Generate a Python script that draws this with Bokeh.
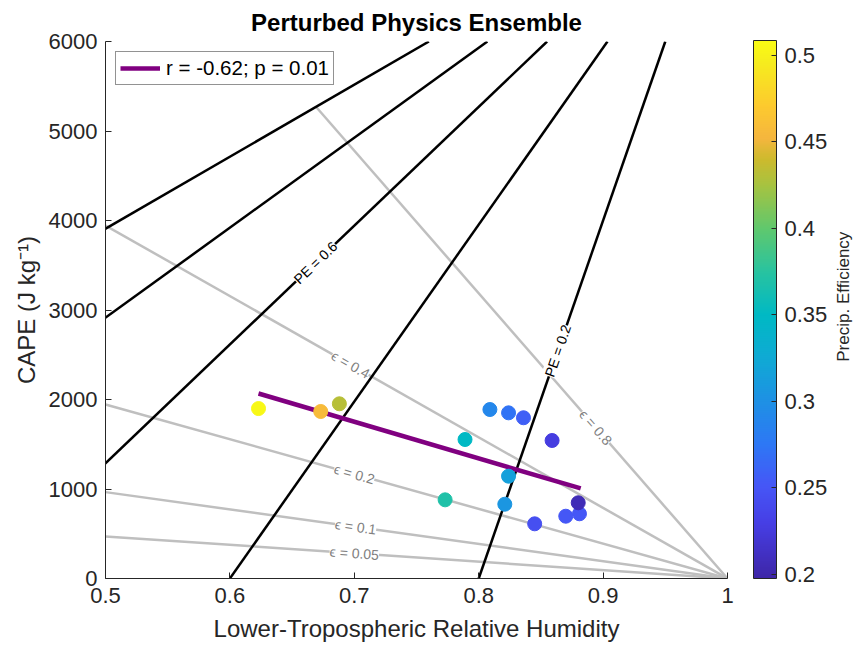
import numpy as np
from bokeh.plotting import figure
from bokeh.layouts import row
from bokeh.models import (ColumnDataSource, LinearColorMapper, ColorBar, FixedTicker,
                          CustomJSTickFormatter, Label, Range1d)
from bokeh.core.properties import value
from bokeh.transform import transform
from bokeh.embed import file_html
from bokeh.resources import INLINE

# ---------------- data ----------------
rh = [0.623, 0.673, 0.688, 0.789, 0.773, 0.809, 0.824, 0.836, 0.859,
      0.824, 0.821, 0.845, 0.870, 0.881, 0.880]
cape = [1899, 1866, 1952, 1553, 879, 1888, 1851, 1796, 1542,
        1143, 830, 611, 696, 723, 846]
pe = [0.505, 0.457, 0.432, 0.350, 0.370, 0.290, 0.272, 0.258, 0.228,
      0.315, 0.305, 0.245, 0.252, 0.252, 0.205]

trend_x = [0.623, 0.882]
trend_y = [2067, 1006]
trend_label = "r = -0.62; p = 0.01"

# epsilon reference lines: start point, all end at (1, 0)
eps_names = ["0.05", "0.1", "0.2", "0.4", "0.8"]
eps_x0 = [0.5, 0.5, 0.5, 0.5, 0.669]
eps_y0 = [470, 965, 1945, 3944, 5274]
eps_label_x = [0.700, 0.701, 0.700, 0.697, 0.894]

# PE reference lines: x at CAPE=0 and x at CAPE=6000
pe_line_x0 = [0.800, 0.600, 0.403, 0.210, 0.014]
pe_line_xtop = [0.950, 0.9035, 0.855, 0.807, 0.760]
pe_labels = {0: "PE = 0.2", 2: "PE = 0.6"}
pe_label_x = {0: 0.8636, 2: 0.6688}

x_ticks = [0.5, 0.6, 0.7, 0.8, 0.9, 1.0]
y_ticks = [0, 1000, 2000, 3000, 4000, 5000, 6000]
cb_ticks = [0.2, 0.25, 0.3, 0.35, 0.4, 0.45, 0.5]
cb_low, cb_high = 0.1977, 0.5086
cb_title = "Precip. Efficiency"

# ---------------- parula-like palette ----------------
anchors = [
    (0.00, (62, 38, 168)), (0.10, (70, 62, 228)), (0.17, (70, 86, 246)),
    (0.25, (45, 120, 245)), (0.33, (30, 145, 228)), (0.41, (15, 170, 212)),
    (0.49, (0, 185, 196)), (0.57, (40, 195, 160)), (0.65, (95, 200, 110)),
    (0.73, (165, 195, 65)), (0.78, (205, 186, 45)), (0.82, (245, 182, 62)),
    (0.88, (253, 202, 46)), (0.96, (246, 236, 30)), (1.00, (249, 251, 20)),
]
at = np.array([a[0] for a in anchors])
ac = np.array([a[1] for a in anchors], dtype=float)
tt = np.linspace(0, 1, 256)
palette = ["#%02x%02x%02x" % tuple(int(round(np.interp(t, at, ac[:, k]))) for k in range(3)) for t in tt]

FONT = "Liberation Sans"
TXT = "#262626"

fw, fh = 622, 537
xr = (0.5, 1.0)
yr = (0, 6000)
px_x = fw / (xr[1] - xr[0])
px_y = fh / (yr[1] - yr[0])
right_w = 106

p = figure(frame_width=fw, frame_height=fh, x_range=Range1d(*xr), y_range=Range1d(*yr),
           output_backend="svg", toolbar_location=None,
           min_border_left=105, min_border_top=41, min_border_bottom=68, min_border_right=right_w,
           title="Perturbed Physics Ensemble")
p.outline_line_color = None
p.grid.visible = False
p.background_fill_color = "white"
p.border_fill_color = "white"

p.title.align = "center"
p.title.text_font = FONT
p.title.text_font_size = "24px"
p.title.text_font_style = "bold"
p.title.text_color = "black"
p.title.standoff = 12

fmt = CustomJSTickFormatter(code="return parseFloat(tick.toFixed(3)).toString();")
for ax, ticks in ((p.xaxis, x_ticks), (p.yaxis, y_ticks)):
    ax.ticker = FixedTicker(ticks=ticks)
    ax.major_tick_in = 6
    ax.major_tick_out = 0
    ax.minor_tick_line_color = None
    ax.axis_line_color = TXT
    ax.major_tick_line_color = TXT
    ax.major_label_text_color = TXT
    ax.major_label_text_font = FONT
    ax.major_label_text_font_size = "22px"
    ax.axis_label_text_font = FONT
    ax.axis_label_text_font_size = "24px"
    ax.axis_label_text_font_style = "normal"
    ax.axis_label_text_color = TXT
p.xaxis.formatter = fmt
p.xaxis.major_label_standoff = 9
p.yaxis.major_label_standoff = 8
p.xaxis.axis_label = "Lower-Tropospheric Relative Humidity"
p.yaxis.axis_label = "CAPE (J kg\u207b\u00b9)"
p.xaxis.axis_label_standoff = 9
p.yaxis.axis_label_standoff = 6

# epsilon lines (gray)
for i in range(len(eps_names)):
    p.line([eps_x0[i], 1.0], [eps_y0[i], 0], line_color="#bfbfbf", line_width=2.5)
# PE lines (black)
for i in range(len(pe_line_x0)):
    p.line([pe_line_x0[i], pe_line_xtop[i]], [0, 6000], line_color="black", line_width=2.5)

# trend line
p.line(trend_x, trend_y, line_color="#800080", line_width=4.5, legend_label=trend_label)

# scatter
mapper = LinearColorMapper(palette=palette, low=cb_low, high=cb_high)
src = ColumnDataSource(dict(rh=rh, cape=cape, pe=pe))
p.scatter("rh", "cape", source=src, size=14,
          fill_color=transform("pe", mapper), line_color=transform("pe", mapper))

# contour-style labels
for i, name in enumerate(eps_names):
    slope = -eps_y0[i] / (1.0 - eps_x0[i])
    lx = eps_label_x[i]
    ly = eps_y0[i] + slope * (lx - eps_x0[i])
    ang = np.arctan(slope * px_y / px_x)
    p.add_layout(Label(x=lx, y=ly, text="\u03f5 = " + name, angle=float(ang),
                       text_align="center", text_baseline="middle",
                       text_font=FONT, text_font_size="14px", text_color="#808080",
                       background_fill_color="white"))
for i, txt in pe_labels.items():
    slope = 6000.0 / (pe_line_xtop[i] - pe_line_x0[i])
    lx = pe_label_x[i]
    ly = slope * (lx - pe_line_x0[i])
    ang = np.arctan(slope * px_y / px_x)
    p.add_layout(Label(x=lx, y=ly, text=txt, angle=float(ang),
                       text_align="center", text_baseline="middle",
                       text_font=FONT, text_font_size="14px", text_color="black",
                       background_fill_color="white"))

# legend
lg = p.legend[0]
lg.location = "top_left"
lg.margin = 10
lg.padding = 4
lg.spacing = 0
lg.glyph_width = 40
lg.glyph_height = 20
lg.label_standoff = 6
lg.label_text_font = FONT
lg.label_text_font_size = "20.5px"
lg.label_text_color = "black"
lg.border_line_color = TXT
lg.border_line_width = 1
lg.background_fill_alpha = 1.0

# colorbar
cb = ColorBar(color_mapper=mapper, ticker=FixedTicker(ticks=cb_ticks), formatter=fmt,
              width=23, height=538, location=(26, 0), margin=0, padding=0,
              bar_line_color=TXT, major_tick_in=5, major_tick_out=0,
              major_tick_line_color=TXT, major_label_text_font=FONT,
              major_label_text_font_size="22px", major_label_text_color=TXT,
              label_standoff=8, border_line_color=None, background_fill_color=None)
p.add_layout(cb, "right")

# colorbar title in a narrow companion figure (vertical, bottom-to-top)
total_w, total_h = 857, 646
p_w = 105 + fw + right_w
p2 = figure(width=total_w - p_w, height=total_h, x_range=Range1d(0, 1), y_range=Range1d(0, total_h),
            output_backend="svg", toolbar_location=None, min_border=0,
            x_axis_location=None, y_axis_location=None)
p2.outline_line_color = None
p2.grid.visible = False
p2.background_fill_color = "white"
p2.border_fill_color = "white"
p2.text(x=[0.42], y=[total_h - 307], text=[cb_title], angle=float(np.pi / 2),
        text_align="center", text_baseline="middle",
        text_font=value(FONT), text_font_size="17px", text_color=TXT)

layout = row(p, p2, spacing=0)
open("out.html", "w").write(file_html(layout, INLINE))
